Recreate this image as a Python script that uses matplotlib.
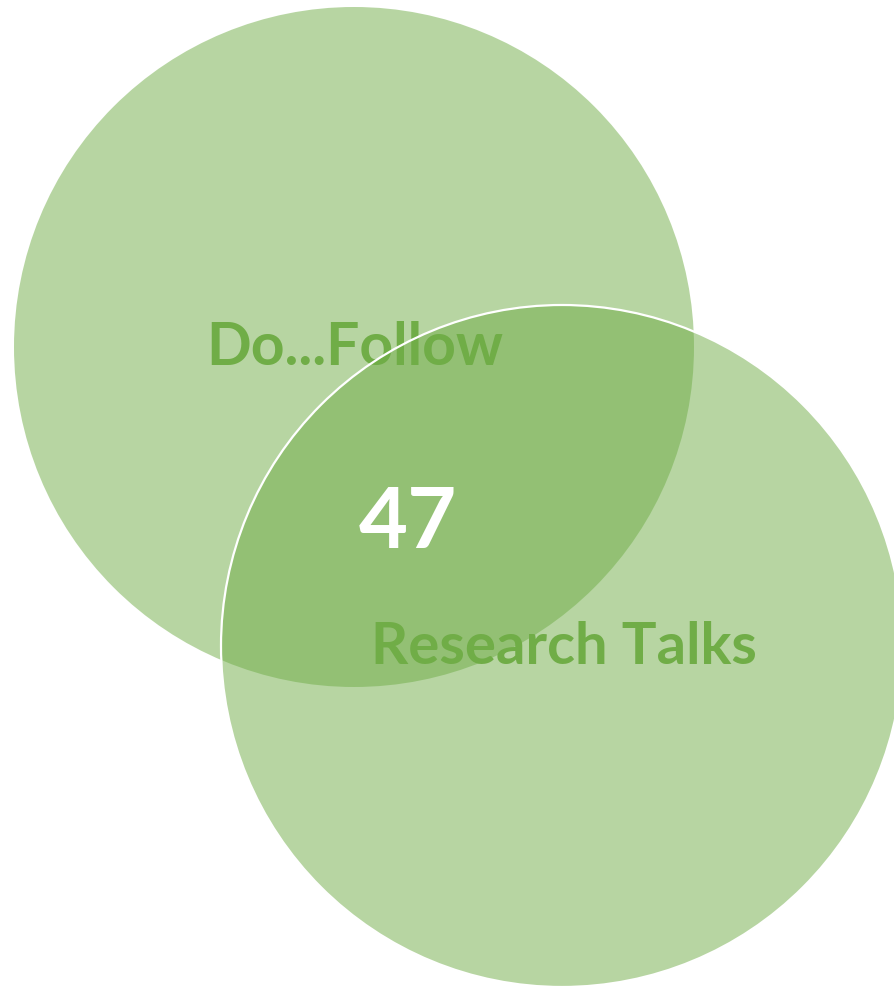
import matplotlib
matplotlib.use('Agg')
import matplotlib.pyplot as plt
from matplotlib.patches import Circle

# Venn data
set_labels = ["Do...Follow", "Research Talks"]
overlap_value = 47

fill_colour = "#70AD47"
text_colour = "#70AD47"

fig = plt.figure(figsize=(8.95, 9.86), dpi=100)
ax = fig.add_axes([0, 0, 1, 1])
ax.set_xlim(0, 895)
ax.set_ylim(986, 0)
ax.set_aspect('equal')
ax.axis('off')

# circle 1 (top-left) and circle 2 (bottom-right)
c1 = Circle((354, 347), 340, facecolor=fill_colour, alpha=0.5, edgecolor='none', zorder=1)
c2 = Circle((562, 646), 341, facecolor=fill_colour, alpha=0.5, edgecolor='none', zorder=2)
ax.add_patch(c1)
ax.add_patch(c2)
# white outline of second circle, drawn over the text
edge2 = Circle((562, 646), 341, facecolor='none', edgecolor='white', linewidth=1.6, zorder=4)
ax.add_patch(edge2)

font = ['Lato', 'DejaVu Sans']
ax.text(206, 348, set_labels[0], color=text_colour, fontsize=42.3, fontweight='bold',
        family=font, ha='left', va='center', zorder=3)
ax.text(371, 648, set_labels[1], color=text_colour, fontsize=41.8, fontweight='bold',
        family=font, ha='left', va='center', zorder=3)
ax.text(408, 523, str(overlap_value), color='white', fontsize=61, fontweight='bold',
        family=font, ha='center', va='center', zorder=5)

fig.savefig("out.png", dpi=100)
